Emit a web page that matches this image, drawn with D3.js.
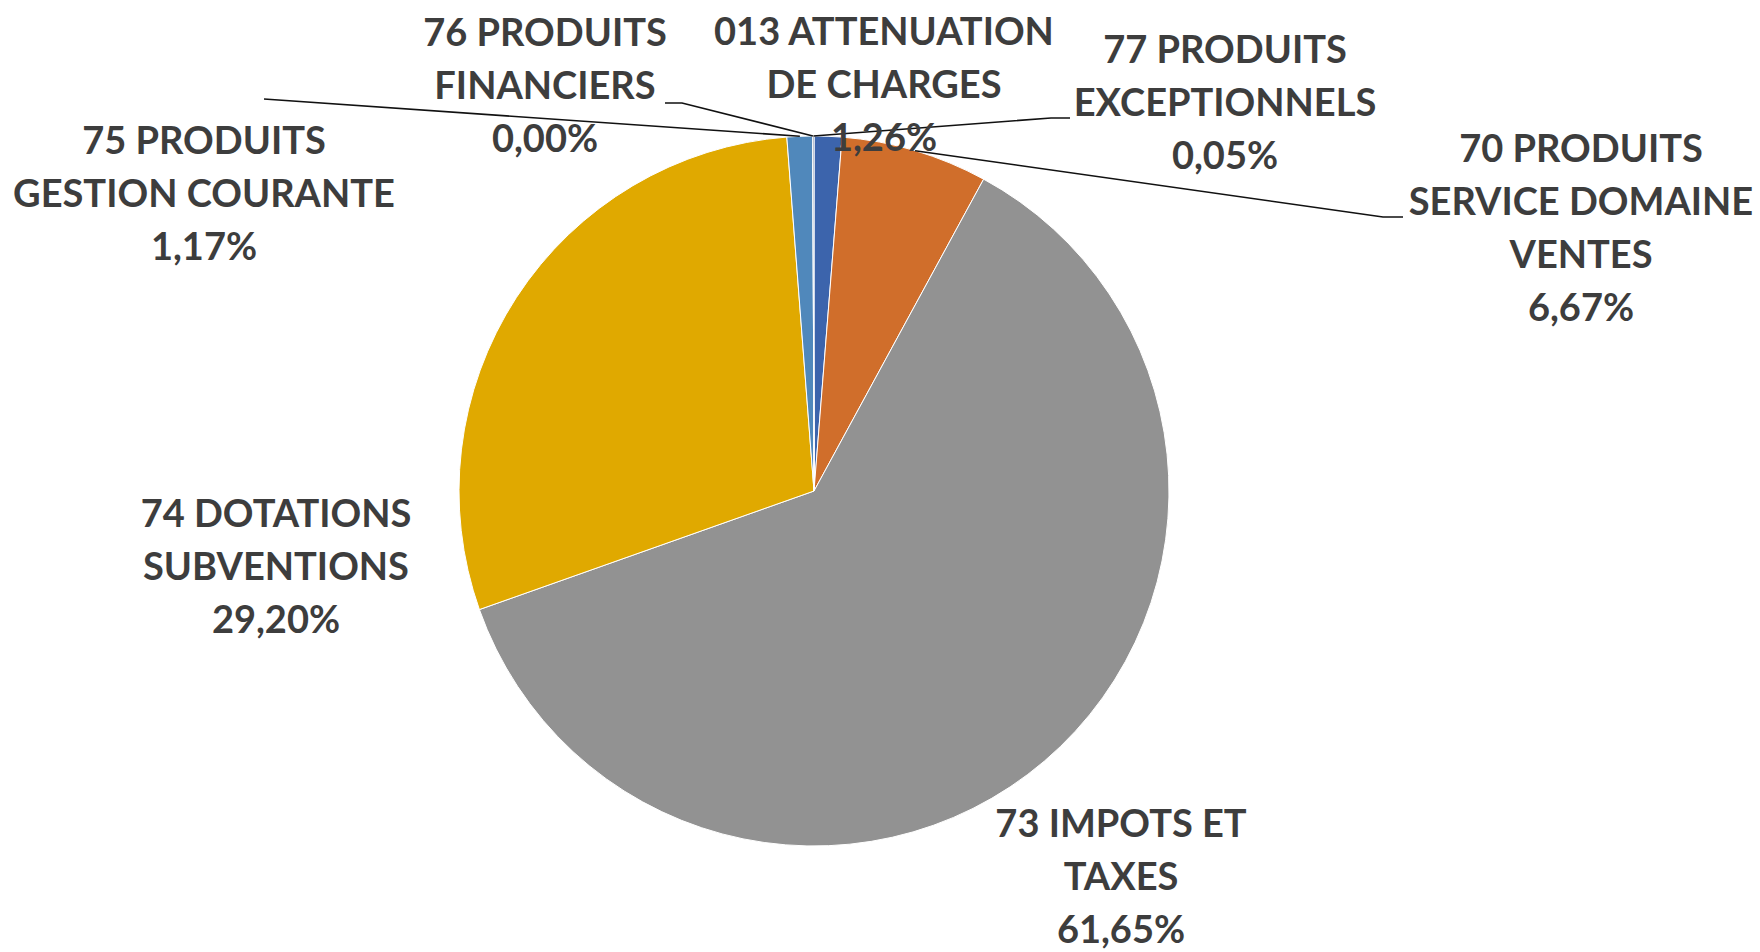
<!DOCTYPE html>
<html>
<head>
<meta charset="utf-8">
<script src="https://cdn.jsdelivr.net/npm/d3@7"></script>
<style>
  html, body { margin: 0; padding: 0; background: #fff; }
  #chart { width: 1760px; height: 952px; }
</style>
</head>
<body>
<div id="chart"></div>
<script>
// ── Data ──────────────────────────────────────────────────────────────────────
const codes = ['013', '70', '73', '74', '75', '76', '77'];
const labels = [
  ['013 ATTENUATION', 'DE CHARGES'],
  ['70 PRODUITS', 'SERVICE DOMAINE', 'VENTES'],
  ['73 IMPOTS ET', 'TAXES'],
  ['74 DOTATIONS', 'SUBVENTIONS'],
  ['75 PRODUITS', 'GESTION COURANTE'],
  ['76 PRODUITS', 'FINANCIERS'],
  ['77 PRODUITS', 'EXCEPTIONNELS']
];
const shares = [1.26, 6.67, 61.65, 29.20, 1.17, 0.00, 0.05];
const colors = ['#3c64ac', '#d06e2b', '#929292', '#e0a900', '#5088bb', '#63983e', '#213c6a'];

// label placement (x = centre of text block, y = first baseline) and leader line bends
const labelPos = [
  { x: 884, y: 45, line: null },
  { x: 1581, y: 162, line: [[1383, 217], [1403, 217]] },
  { x: 1121, y: 837, line: null },
  { x: 276, y: 527, line: null },
  { x: 204, y: 154, line: [[264, 99]] },
  { x: 545, y: 46, line: [[682, 103], [665, 103]] },
  { x: 1225, y: 63, line: [[1051, 118], [1070, 118]] }
];

const W = 1760, H = 952;
const cx = 814, cy = 491, R = 355;
const lineH = 53;

const fmt = v => v.toFixed(2).replace('.', ',') + '%';

// ── SVG ───────────────────────────────────────────────────────────────────────
const svg = d3.select('#chart').append('svg')
  .attr('width', W)
  .attr('height', H);

const pie = d3.pie().sort(null).value(d => d.value);
const arcs = pie(codes.map((c, i) => ({ code: c, value: shares[i], i })));

const arc = d3.arc().innerRadius(0).outerRadius(R);
const edge = d3.arc().innerRadius(R).outerRadius(R);

const g = svg.append('g').attr('transform', `translate(${cx},${cy})`);

g.selectAll('path')
  .data(arcs)
  .join('path')
  .attr('d', arc)
  .attr('fill', d => colors[d.data.i])
  .attr('stroke', '#fff')
  .attr('stroke-width', 1);

// ── Leader lines ──────────────────────────────────────────────────────────────
const lineG = svg.append('g');
arcs.forEach(d => {
  const pos = labelPos[d.data.i];
  if (!pos.line) return;
  const [sx, sy] = edge.centroid(d);
  const pts = [[cx + sx, cy + sy], ...pos.line];
  lineG.append('path')
    .attr('d', d3.line()(pts))
    .attr('fill', 'none')
    .attr('stroke', '#111')
    .attr('stroke-width', 1.6);
});

// ── Labels ────────────────────────────────────────────────────────────────────
const labelG = svg.append('g')
  .attr('font-family', 'Lato, "Open Sans", sans-serif')
  .attr('font-weight', 700)
  .attr('font-size', '38px')
  .attr('fill', '#3d3d3d')
  .attr('text-anchor', 'middle');

arcs.forEach(d => {
  const i = d.data.i;
  const pos = labelPos[i];
  const rows = [...labels[i], fmt(shares[i])];
  const t = labelG.append('text').attr('x', pos.x).attr('y', pos.y);
  rows.forEach((r, k) => {
    t.append('tspan')
      .attr('x', pos.x)
      .attr('y', pos.y + k * lineH)
      .text(r);
  });
});
</script>
</body>
</html>
